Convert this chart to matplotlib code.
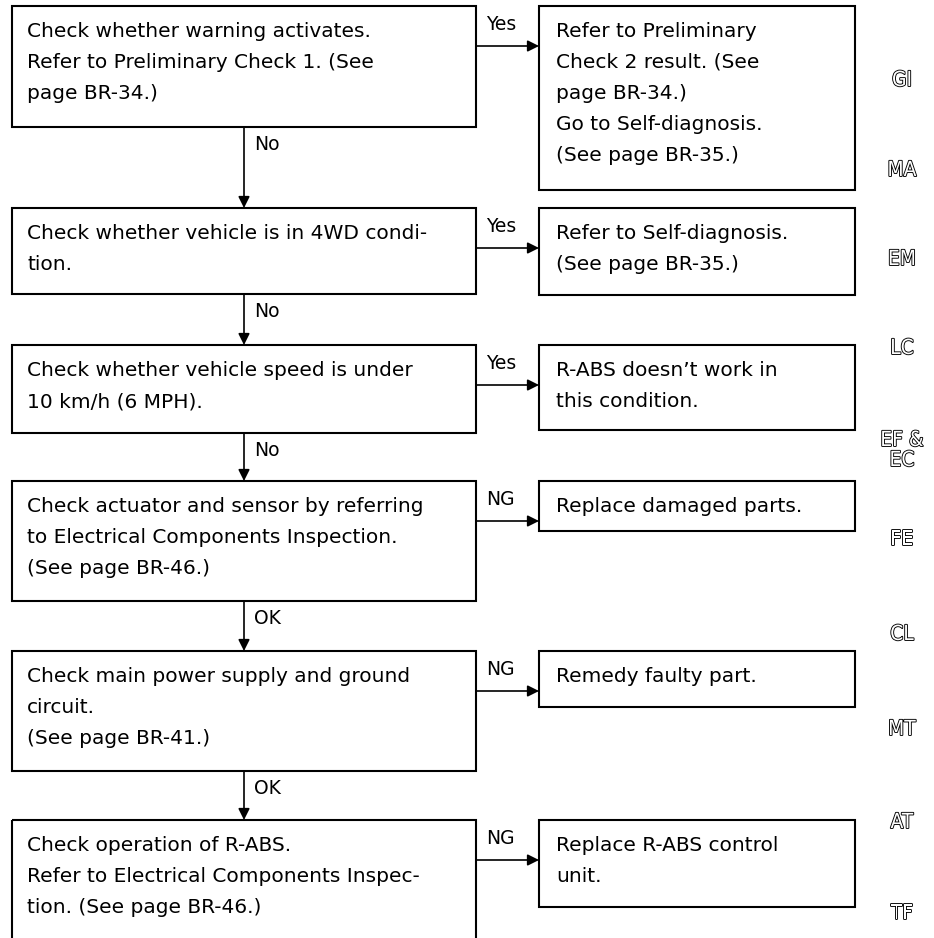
import matplotlib
matplotlib.use("Agg")
import matplotlib.pyplot as plt
from matplotlib.patches import Rectangle
import matplotlib.patheffects as pe

# flowchart text
left_steps = [
    "Check whether warning activates.\nRefer to Preliminary Check 1. (See\npage BR-34.)",
    "Check whether vehicle is in 4WD condi-\ntion.",
    "Check whether vehicle speed is under\n10 km/h (6 MPH).",
    "Check actuator and sensor by referring\nto Electrical Components Inspection.\n(See page BR-46.)",
    "Check main power supply and ground\ncircuit.\n(See page BR-41.)",
    "Check operation of R-ABS.\nRefer to Electrical Components Inspec-\ntion. (See page BR-46.)",
]
right_results = [
    "Refer to Preliminary\nCheck 2 result. (See\npage BR-34.)\nGo to Self-diagnosis.\n(See page BR-35.)",
    "Refer to Self-diagnosis.\n(See page BR-35.)",
    "R-ABS doesn\u2019t work in\nthis condition.",
    "Replace damaged parts.",
    "Remedy faulty part.",
    "Replace R-ABS control\nunit.",
]
branch_labels = ["Yes", "Yes", "Yes", "NG", "NG", "NG"]
down_labels = ["No", "No", "No", "OK", "OK"]
side_tabs = ["GI", "MA", "EM", "LC", "EF &\nEC", "FE", "CL", "MT", "AT", "TF"]

# layout in pixels (y grows downward)
W, H = 934, 938
lx0, lx1 = 12, 476
rx0, rx1 = 539, 855
left_rows = [(6, 127), (208, 294), (345, 433), (481, 601), (651, 771), (820, 942)]
right_rows = [(6, 190), (208, 295), (345, 430), (481, 531), (651, 707), (820, 907)]
arrow_dy = 40
tab_y = [80, 170, 259, 348, 450, 539, 634, 729, 822, 913]
tab_x = 902

fig = plt.figure(figsize=(W / 100, H / 100), dpi=100)
ax = fig.add_axes([0, 0, 1, 1])
ax.set_xlim(0, W)
ax.set_ylim(H, 0)
ax.axis("off")

font = dict(family="DejaVu Sans", fontsize=14.5, color="black", linespacing=1.8)
arr = dict(arrowstyle="-|>", lw=1.2, color="black", mutation_scale=17, shrinkA=0, shrinkB=0)

for i, (txt, res) in enumerate(zip(left_steps, right_results)):
    t, b = left_rows[i]
    ax.add_patch(Rectangle((lx0, t), lx1 - lx0, b - t, fill=False, lw=1.5, ec="black"))
    ax.text(lx0 + 15, t + 16, txt, va="top", ha="left", **font)

    rt, rb = right_rows[i]
    ax.add_patch(Rectangle((rx0, rt), rx1 - rx0, rb - rt, fill=False, lw=1.5, ec="black"))
    ax.text(rx0 + 17, rt + 16, res, va="top", ha="left", **font)

    ay = t + arrow_dy
    ax.annotate("", xy=(rx0, ay), xytext=(lx1, ay), arrowprops=arr)
    ax.text(lx1 + 10, ay - 16, branch_labels[i], ha="left", va="baseline",
            family="DejaVu Sans", fontsize=13.5)

cx = (lx0 + lx1) / 2
for i, lab in enumerate(down_labels):
    b = left_rows[i][1]
    t = left_rows[i + 1][0]
    ax.annotate("", xy=(cx, t), xytext=(cx, b), arrowprops=arr)
    ax.text(cx + 10, b + 8, lab, ha="left", va="top", family="DejaVu Sans", fontsize=13.5)

# outlined section tabs down the right margin
for lab, y in zip(side_tabs, tab_y):
    ax.text(tab_x, y, lab, ha="center", va="center", multialignment="center",
            family="DejaVu Sans", fontsize=15, fontstretch="condensed", color="white",
            linespacing=1.0,
            path_effects=[pe.withStroke(linewidth=1.3, foreground="black")])

fig.savefig("out.png", dpi=100, facecolor="white")
